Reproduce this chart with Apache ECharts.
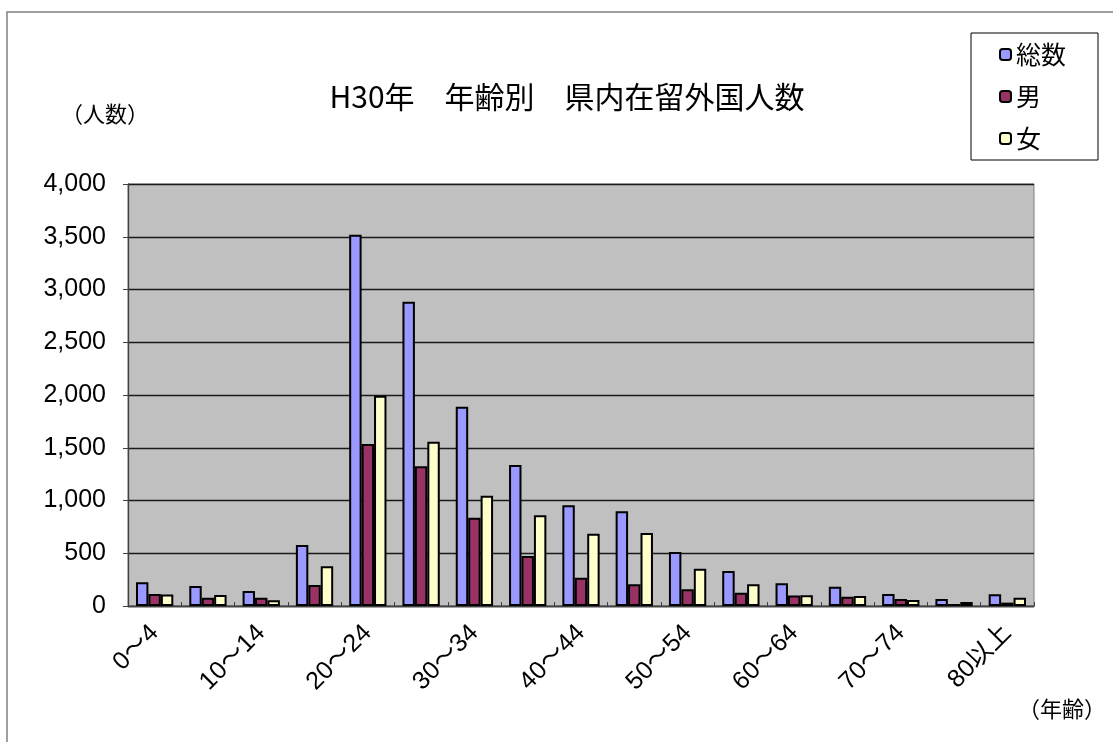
<!DOCTYPE html>
<html>
<head>
<meta charset="utf-8">
<script src="https://cdn.jsdelivr.net/npm/echarts@6/dist/echarts.min.js"></script>
<style>html,body{margin:0;padding:0;background:#fff;}#c{width:1113px;height:742px;}</style>
</head>
<body>
<div id="c"></div>
<script>
var categories = ['0～4','5～9','10～14','15～19','20～24','25～29','30～34','35～39','40～44','45～49','50～54','55～59','60～64','65～69','70～74','75～79','80以上'];
var total  = [225, 190, 142, 578, 3520, 2884, 1889, 1336, 954, 897, 512, 332, 215, 183, 114, 66, 111];
var male   = [113, 79, 79, 199, 1536, 1324, 837, 474, 268, 205, 158, 126, 100, 88, 66, 19, 32];
var female = [109, 104, 54, 376, 1994, 1557, 1046, 860, 685, 692, 354, 205, 101, 95, 57, 38, 79];
var seriesNames = ['総数','男','女'];
var yTicks = [0, 500, 1000, 1500, 2000, 2500, 3000, 3500, 4000];

var jp = '"Noto Sans CJK JP", sans-serif';
var num = '"Liberation Sans", "Noto Sans CJK JP", sans-serif';
var chart = echarts.init(document.getElementById('c'));
function bar(name, data, color) {
  return {
    name: name, type: 'bar', data: data, barGap: '0%', barCategoryGap: '30%',
    itemStyle: { color: color, borderColor: '#000', borderWidth: 2 },
    emphasis: { disabled: true }, animation: false
  };
}
chart.setOption({
  animation: false,
  title: {
    text: 'H30年　年齢別　県内在留外国人数', left: 562, textAlign: 'center', top: 77,
    textStyle: { fontFamily: jp, fontSize: 30, fontWeight: 'normal', color: '#000' }
  },
  legend: {
    orient: 'vertical', left: 999, top: 42, itemGap: 17, itemWidth: 11, itemHeight: 11,
    padding: 0,
    textStyle: { fontFamily: jp, fontSize: 25, color: '#000', lineHeight: 25 },
    data: seriesNames
  },
  graphic: [
    { type: 'rect', shape: { x: 7, y: 12, width: 1130, height: 760 }, style: { fill: 'none', stroke: '#808080', lineWidth: 1.5 }, z: -10 },
    { type: 'rect', shape: { x: 971, y: 33, width: 127, height: 127 }, style: { fill: '#fff', stroke: '#000', lineWidth: 1 }, z: -5 },
    { type: 'text', left: 61, top: 103, style: { text: '（人数）', font: '22px "Noto Sans CJK JP"', fill: '#000' } },
    { type: 'text', left: 1018, top: 698, style: { text: '（年齢）', font: '22px "Noto Sans CJK JP"', fill: '#000' } }
  ],
  grid: {
    left: 128, right: 79, top: 184, bottom: 136, show: true,
    backgroundColor: '#C0C0C0', borderColor: '#808080', borderWidth: 1
  },
  xAxis: {
    type: 'category', data: categories,
    axisLine: { lineStyle: { color: '#404040', width: 1.3 } },
    axisTick: { show: true, inside: true, length: 4, interval: 0, lineStyle: { color: '#404040' } },
    axisLabel: { interval: 1, rotate: 45, margin: 23, fontFamily: num, fontSize: 25, color: '#000' }
  },
  yAxis: {
    type: 'value', min: 0, max: 4000, interval: 500,
    axisLine: { show: true, lineStyle: { color: '#404040', width: 1.3 } },
    axisTick: { show: true, length: 5, lineStyle: { color: '#404040' } },
    axisLabel: { margin: 22, fontFamily: num, fontSize: 25, color: '#000',
      formatter: function (v) { return v.toLocaleString('en-US'); } },
    splitLine: { lineStyle: { color: '#1a1a1a', width: 1.4 } }
  },
  series: [
    bar(seriesNames[0], total, '#9999FF'),
    bar(seriesNames[1], male, '#993366'),
    bar(seriesNames[2], female, '#FFFFCC')
  ]
});
</script>
</body>
</html>
